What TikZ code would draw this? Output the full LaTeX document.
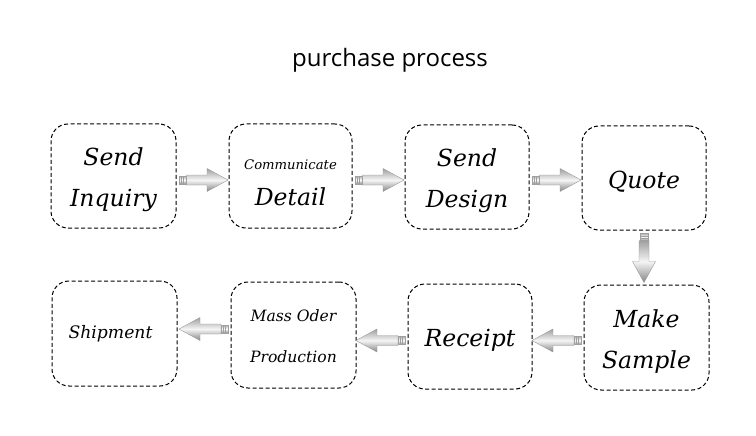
\documentclass[tikz,border=0pt]{standalone}
\usepackage{fontspec}
\setmainfont{DejaVu Serif}
\newfontfamily\titlefont{Open Sans}
\usetikzlibrary{calc}
\tikzset{
  stepbox/.style={draw=black, dashed, dash pattern=on 4pt off 2.5pt, line width=1pt,
    rounded corners=17pt, align=center, font=\itshape, inner sep=0pt},
  big/.style={align=center, font=\fontsize{23.5}{41}\selectfont\itshape},
  blockarrow/.pic={
    % local: along +x from 0 to 50, centred on y=0 (y axis points down)
    \shade[top color=gray!75, bottom color=gray!95, middle color=gray!8, draw=gray!80, line width=0.4pt]
      (8,-5) -- (29,-5) -- (29,-11.5) -- (50,0) -- (29,11.5) -- (29,5) -- (8,5) -- cycle;
    \shade[top color=gray!60, bottom color=gray!90, middle color=white, draw=gray!75, line width=0.4pt]
      (1,-4) rectangle (8,4);
    \draw[gray!75, line width=0.5pt] (3.3,-4) -- (3.3,4) (5.6,-4) -- (5.6,4);
  }
}
\begin{document}
\begin{tikzpicture}[x=1pt, y=-1pt]
\useasboundingbox (0,0) rectangle (756,436);
\node[font=\titlefont\fontsize{24}{28}\selectfont] (title) at (390,60) {purchase process};

\node[stepbox, minimum width=125pt, minimum height=104pt] (inq) at (113.5,176) {};
\node[big] at ($(inq)+(0,4)$) {Send\\Inquiry};
\node[stepbox, minimum width=123pt, minimum height=104pt] (det) at (290.5,176) {};
\node[align=center, font=\fontsize{23.5}{41}\selectfont\itshape] at ($(det)+(0,7)$)
  {{\fontsize{13.2}{15}\selectfont Communicate}\\[-5pt]Detail};
\node[stepbox, minimum width=124pt, minimum height=104pt] (des) at (467,177) {};
\node[big] at ($(des)+(0,4)$) {Send\\Design};
\node[stepbox, minimum width=124pt, minimum height=104pt] (quo) at (644,178) {};
\node[big] at ($(quo)+(0,4)$) {Quote};

\node[stepbox, minimum width=125pt, minimum height=105pt] (smp) at (646.5,337.5) {};
\node[big] at ($(smp)+(0,4)$) {Make\\Sample};
\node[stepbox, minimum width=124pt, minimum height=105pt] (rec) at (470,336.5) {};
\node[big] at ($(rec)+(0,4)$) {Receipt};
\node[stepbox, minimum width=125pt, minimum height=106pt] (mas) at (293.5,335) {};
\node[align=center, font=\fontsize{15.6}{41}\selectfont\itshape] at ($(mas)+(0,1)$) {Mass Oder\\Production};
\node[stepbox, minimum width=125pt, minimum height=105pt] (shp) at (114.5,333.5) {};
\node[font=\fontsize{17.2}{20}\selectfont\itshape] at ($(shp)+(-4,0)$) {Shipment};

\pic at ($(inq.east)+(1.5,4)$) {blockarrow};
\pic at ($(det.east)+(1.5,4)$) {blockarrow};
\pic at ($(des.east)+(1.5,3)$) {blockarrow};
\pic[rotate=-90] at ($(quo.south)+(0,2)$) {blockarrow};
\pic[rotate=180] at ($(smp.west)+(-1.5,3)$) {blockarrow};
\pic[rotate=180] at ($(rec.west)+(-1.5,4)$) {blockarrow};
\pic[rotate=180] at ($(mas.west)+(-1.5,-6)$) {blockarrow};
\end{tikzpicture}
\end{document}
